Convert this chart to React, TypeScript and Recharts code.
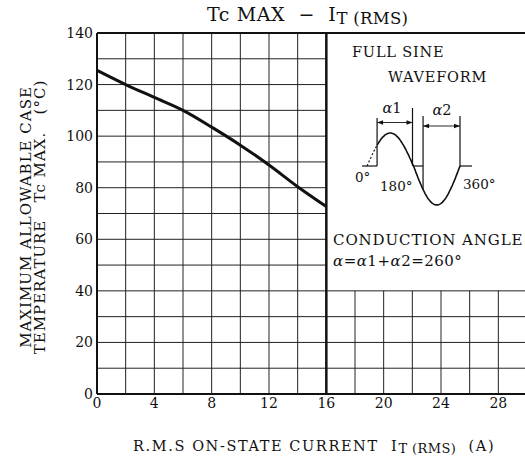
import { LineChart, Line, XAxis, YAxis, ReferenceLine } from "recharts";

// Tc MAX vs IT(RMS)
const currentA = [0, 2, 4, 6, 8, 10, 12, 14, 16];
const tcMax = [125.5, 120, 115, 110, 103.5, 96.5, 88.8, 80.4, 72.7];

const xTicks = [0, 4, 8, 12, 16, 20, 24, 28];
const yTicks = [0, 20, 40, 60, 80, 100, 120, 140];
const xGrid = [2, 4, 6, 8, 10, 12, 14, 18, 20, 22, 24, 26, 28];
const yGrid = [10, 20, 30, 40, 50, 60, 70, 80, 90, 100, 110, 120, 130];

const data = currentA.map((a, i) => ({ a, tc: tcMax[i] }));

const FONT = "'DejaVu Serif', serif";
const LIMIT_A = 16; // rated current, curve stops here
const INSET_Y = 40; // grid is blanked above this on the right side
const pre = { whiteSpace: "pre" as const };

function Inset() {
  // little sine pictogram, pixel space
  const x0 = 367;
  const half = 46.5;
  const base = 166;
  const px = (deg: number) => x0 + (deg / 180) * half;
  const py = (deg: number) => {
    const amp = deg <= 180 ? 33 : 39;
    return base - amp * Math.sin((deg * Math.PI) / 180);
  };
  const arc = (from: number, to: number) => {
    let d = "";
    for (let t = from; t <= to; t += 3) d += (d ? " L" : "M") + px(t).toFixed(1) + " " + py(t).toFixed(1);
    return d;
  };
  const fire1 = 39;
  const fire2 = 217;
  return (
    <g fontFamily={FONT} fill="#111">
      <text x={352} y={57} fontSize={14.5} letterSpacing={0.8}>FULL SINE</text>
      <text x={388} y={82} fontSize={14.5} letterSpacing={0.8}>WAVEFORM</text>
      <g stroke="#111" strokeWidth={1.2} fill="none">
        <path d={`M362 ${base} L${px(fire1)} ${base}`} />
        <path d={arc(0, fire1)} strokeDasharray="2 2" />
        <path d={arc(fire1, 360)} strokeWidth={1.6} />
        <path d={`M${px(180)} ${base} L${px(fire2)} ${base}`} />
        <path d={`M${px(360)} ${base} L472 ${base}`} />
        <path d={`M${px(fire1)} 118 L${px(fire1)} ${base}`} />
        <path d={`M${px(180) - 1} 108 L${px(180) - 1} ${base}`} />
        <path d={`M${px(fire2)} 116 L${px(fire2)} ${py(fire2)}`} />
        <path d={`M${px(360)} 116 L${px(360)} ${base + 1}`} />
        <path d={`M${px(fire1)} 122.5 L${px(180) - 1} 122.5`} strokeWidth={0.9} />
        <path d={`M${px(fire2)} 126 L${px(360)} 126`} strokeWidth={0.9} />
      </g>
      <g fill="#111">
        <path d={`M${px(fire1)} 122.5 l6 -2.2 l0 4.4 z`} />
        <path d={`M${px(180) - 1} 122.5 l-6 -2.2 l0 4.4 z`} />
        <path d={`M${px(fire2)} 126 l6 -2.2 l0 4.4 z`} />
        <path d={`M${px(360)} 126 l-6 -2.2 l0 4.4 z`} />
      </g>
      <text x={392} y={113} fontSize={14.5} textAnchor="middle"><tspan fontStyle="italic">α</tspan>1</text>
      <text x={442} y={115} fontSize={14.5} textAnchor="middle"><tspan fontStyle="italic">α</tspan>2</text>
      <text x={355} y={182} fontSize={13.5}>0°</text>
      <text x={380} y={191} fontSize={13.5}>180°</text>
      <text x={463} y={189} fontSize={13.5}>360°</text>
      <text x={333} y={245} fontSize={15} letterSpacing={0.9}>CONDUCTION ANGLE</text>
      <text x={333} y={266} fontSize={15} letterSpacing={0.5}>
        <tspan fontStyle="italic">α</tspan>=<tspan fontStyle="italic">α</tspan>1+<tspan fontStyle="italic">α</tspan>2=260°
      </text>
    </g>
  );
}

function Labels() {
  return (
    <g fontFamily={FONT} fill="#111">
      <text x={207} y={21} fontSize={19} letterSpacing={0.6} style={pre}>
        {"Tc MAX  −  I"}
        <tspan fontSize={16.5} dy={3} letterSpacing={0.3}>{"T (RMS)"}</tspan>
      </text>
      <text x={133} y={451} fontSize={14.5} letterSpacing={1.6} style={pre}>
        {"R.M.S ON-STATE CURRENT  I"}
        <tspan fontSize={13} dy={2} letterSpacing={0.4}>{"T (RMS)"}</tspan>
        <tspan dy={-2}>{"  (A)"}</tspan>
      </text>
      <text transform="translate(31 217) rotate(-90)" textAnchor="middle" fontSize={15} letterSpacing={1}>
        MAXIMUM ALLOWABLE CASE
      </text>
      <text transform="translate(45 217) rotate(-90)" textAnchor="middle" fontSize={15} letterSpacing={1} style={pre}>
        {"TEMPERATURE   Tc MAX.   (°C)"}
      </text>
    </g>
  );
}

export default function App() {
  const tick = { fontFamily: FONT, fontSize: 14, fill: "#111" };
  return (
    <div style={{ position: "fixed", left: 0, top: 0, width: 525, height: 456, background: "#fff", overflow: "hidden" }}>
      <LineChart width={525} height={456} data={data} margin={{ top: 33, right: -2, bottom: 61, left: 96 }}>
        <XAxis
          dataKey="a"
          type="number"
          domain={[0, 30]}
          ticks={xTicks}
          tick={tick}
          tickLine={false}
          tickSize={0}
          tickMargin={4}
          axisLine={{ stroke: "#111", strokeWidth: 2 }}
          height={1}
        />
        <YAxis
          type="number"
          domain={[0, 140]}
          ticks={yTicks}
          tick={tick}
          tickLine={false}
          tickSize={0}
          tickMargin={4}
          axisLine={{ stroke: "#111", strokeWidth: 2 }}
          width={1}
        />
        {yGrid.map((v) => (
          <ReferenceLine
            key={"h" + v}
            segment={[{ x: 0, y: v }, { x: v > INSET_Y ? LIMIT_A : 30, y: v }]}
            stroke="#222"
            strokeWidth={1}
          />
        ))}
        {xGrid.map((v) => (
          <ReferenceLine
            key={"v" + v}
            segment={[{ x: v, y: 0 }, { x: v, y: v > LIMIT_A ? INSET_Y : 140 }]}
            stroke="#222"
            strokeWidth={1}
          />
        ))}
        <ReferenceLine y={140} stroke="#111" strokeWidth={2} />
        <ReferenceLine x={LIMIT_A} stroke="#111" strokeWidth={2.5} />
        <Line dataKey="tc" type="monotone" stroke="#111" strokeWidth={3} dot={false} isAnimationActive={false} />
        <Inset />
        <Labels />
      </LineChart>
    </div>
  );
}
